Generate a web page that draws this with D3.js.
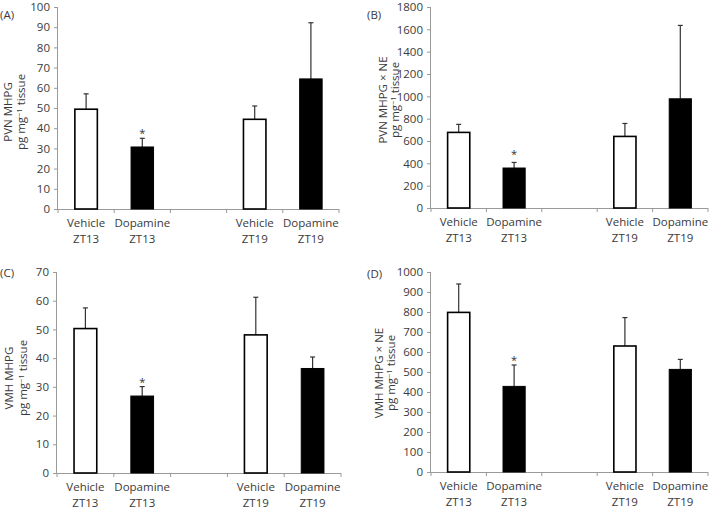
<!DOCTYPE html>
<html><head><meta charset="utf-8">
<script src="https://cdn.jsdelivr.net/npm/d3@7"></script>
<style>
body{margin:0;background:#fff;}
text{font-family:"Open Sans",sans-serif;}
</style></head>
<body><svg id="c" width="709" height="510"></svg>
<script>
const categories = ["Vehicle|ZT13","Dopamine|ZT13","","Vehicle|ZT19","Dopamine|ZT19"];
const treatment = ["vehicle","dopamine","","vehicle","dopamine"];

const pvnMhpg     = [49.4, 30.7, null, 44.4, 64.4];
const pvnMhpgErr  = [57, 35, null, 51, 92.2];
const pvnMhpgNe    = [677, 358, null, 641, 978];
const pvnMhpgNeErr = [749, 408, null, 757, 1635];
const vmhMhpg     = [50.3, 26.8, null, 48.1, 36.4];
const vmhMhpgErr  = [57.5, 30.1, null, 61.2, 40.4];
const vmhMhpgNe    = [798, 428, null, 630, 513];
const vmhMhpgNeErr = [940, 535, null, 772, 563];

const ticksA = [0,10,20,30,40,50,60,70,80,90,100];
const ticksB = [0,200,400,600,800,1000,1200,1400,1600,1800];
const ticksC = [0,10,20,30,40,50,60,70];
const ticksD = [0,100,200,300,400,500,600,700,800,900,1000];

const panels = [
  {letter:"(A)", vals:pvnMhpg, errs:pvnMhpgErr, ticks:ticksA, max:100, label:["PVN MHPG","pg mg","−1"," tissue"],
   x0:58, x1:339, yT:7, yB:209, lx:[12,25], ly:112, px:0, py:14, sig:1, sigOff:-1},
  {letter:"(B)", vals:pvnMhpgNe, errs:pvnMhpgNeErr, ticks:ticksB, max:1800, label:["PVN MHPG × NE","pg mg","−1"," tissue"],
   x0:431, x1:708, yT:7, yB:208, lx:[387,399], ly:100, px:367, py:14, sig:1, sigOff:-4},
  {letter:"(C)", vals:vmhMhpg, errs:vmhMhpgErr, ticks:ticksC, max:70, label:["VMH MHPG","pg mg","−1"," tissue"],
   x0:57, x1:341, yT:272, yB:473, lx:[13,27], ly:378, px:0, py:272, sig:1, sigOff:-1},
  {letter:"(D)", vals:vmhMhpgNe, errs:vmhMhpgNeErr, ticks:ticksD, max:1000, label:["VMH MHPG × NE","pg mg","−1"," tissue"],
   x0:431, x1:708, yT:272, yB:472, lx:[383,395], ly:373, px:367, py:273, sig:1, sigOff:-1}
];

const svg = d3.select("#c");
const axisCol = "#9a9a9a", textCol = "#3a3a3a";

panels.forEach(p => {
  const g = svg.append("g");
  const x = d3.scaleBand().domain(d3.range(categories.length)).range([p.x0, p.x1]).paddingInner(0).paddingOuter(0);
  const y = d3.scaleLinear().domain([0, p.max]).range([p.yB, p.yT]);
  const bw = x.bandwidth()*0.4;

  // y axis
  const ya = g.append("g").attr("transform", `translate(${p.x0},0)`)
    .call(d3.axisLeft(y).tickValues(p.ticks).tickSize(4).tickPadding(4).tickFormat(d3.format("d")));
  ya.select(".domain").attr("stroke", axisCol).attr("d", `M-0.5,${p.yT}V${p.yB}`);
  ya.selectAll(".tick line").attr("stroke", axisCol);
  ya.selectAll(".tick text").attr("fill", textCol).style("font-size","11.5px").style("font-family","'Open Sans',sans-serif");

  // x axis
  const xg = g.append("g");
  xg.append("line").attr("x1", p.x0).attr("x2", p.x1).attr("y1", p.yB+0.5).attr("y2", p.yB+0.5).attr("stroke", axisCol);
  d3.range(categories.length+1).forEach(i => {
    const xx = i < categories.length ? x(i) : p.x1;
    xg.append("line").attr("x1", xx).attr("x2", xx).attr("y1", p.yB).attr("y2", p.yB+4).attr("stroke", axisCol);
  });
  categories.forEach((c,i) => {
    if (!c) return;
    const [a,b] = c.split("|");
    const t = xg.append("text").attr("x", x(i)+x.bandwidth()/2).attr("y", p.yB+18)
      .attr("text-anchor","middle").attr("fill", textCol).style("font-size","11.5px");
    t.append("tspan").attr("x", x(i)+x.bandwidth()/2).text(a);
    t.append("tspan").attr("x", x(i)+x.bandwidth()/2).attr("dy", 15.5).text(b);
  });

  // bars
  p.vals.forEach((v,i) => {
    if (v == null) return;
    const cx = x(i)+x.bandwidth()/2;
    const e = p.errs[i];
    g.append("line").attr("x1", cx).attr("x2", cx).attr("y1", y(v)).attr("y2", y(e)).attr("stroke","#333").attr("stroke-width",1.2);
    g.append("line").attr("x1", cx-2.5).attr("x2", cx+2.5).attr("y1", y(e)).attr("y2", y(e)).attr("stroke","#333").attr("stroke-width",1.2);
    const filled = treatment[i] === "dopamine";
    g.append("rect").attr("x", cx-bw/2).attr("y", y(v)).attr("width", bw).attr("height", y(0)-y(v))
      .attr("fill", filled ? "#000" : "#fff").attr("stroke","#000").attr("stroke-width", filled?1:1.6);
    if (i === p.sig) {
      g.append("text").attr("x", cx).attr("y", y(e)+p.sigOff).attr("text-anchor","middle")
        .attr("fill","#333").style("font-size","11px").text("*");
    }
  });

  // y label (alphabetic baseline at lx)
  const mid = p.ly;
  g.append("text").attr("transform", `translate(${p.lx[0]},${mid}) rotate(-90)`).attr("text-anchor","middle")
    .attr("fill", textCol).style("font-size","11.5px").text(p.label[0]);
  const t2 = g.append("text").attr("transform", `translate(${p.lx[1]},${mid}) rotate(-90)`).attr("text-anchor","middle")
    .attr("fill", textCol).style("font-size","11.5px");
  t2.append("tspan").text(p.label[1]);
  t2.append("tspan").attr("dy",-3.5).style("font-size","7.5px").text(p.label[2]);
  t2.append("tspan").attr("dy",3.5).text(p.label[3]);

  // panel letter
  g.append("text").attr("x", p.px).attr("y", p.py).attr("dominant-baseline","central").attr("fill", textCol)
    .style("font-size","11.5px").text(p.letter);
});
</script></body></html>
